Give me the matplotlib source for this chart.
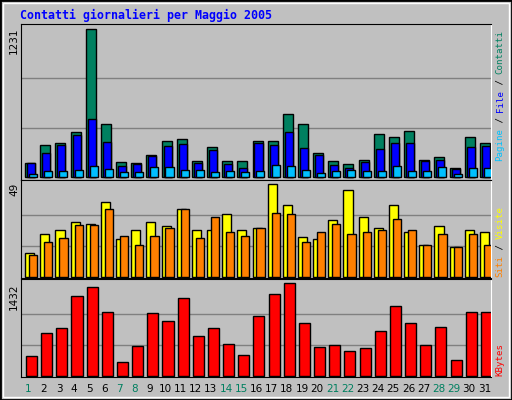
import matplotlib
matplotlib.use("Agg")
import matplotlib.pyplot as plt
import numpy as np

days = list(range(1, 32))
weekend = [1, 7, 8, 14, 15, 21, 22, 28, 29]
hits = [111,261,278,370,1231,436,120,111,178,295,311,128,245,128,128,295,295,520,436,195,128,103,136,353,328,378,136,161,70,328,278]
files = [111,195,261,345,486,286,86,103,170,253,270,111,220,103,70,278,261,370,236,178,94,70,120,228,278,278,128,136,61,245,253]
pages = [19,44,44,53,86,61,36,36,78,78,53,53,36,44,36,44,94,86,53,28,44,53,44,44,86,44,44,78,19,70,70]
visits = [12.4,22.5,25,29,28,39.5,20,25,29,27,36,25,25,33,25,26,49,38,21,20,30,46,31.5,26,38,23.5,16.6,27,15.6,24.6,23.5]
sites = [11.3,18.2,20.3,27.2,27.2,36,21.4,16.6,21.4,26,36,20.3,31.5,23.5,21.4,26,34,33,18.2,23.5,28,22.5,23.5,24.6,30.4,25,16.6,22.5,15.6,22.5,16.6]
kbytes = [303,664,742,1228,1369,993,209,460,977,852,1197,617,742,491,319,930,1259,1432,820,444,476,381,428,695,1087,820,476,758,240,993,993]

BG = "#C0C0C0"
fig = plt.figure(figsize=(5.12, 4.0), dpi=100, facecolor=BG)
W, H = 512, 400
def fx(p): return p / W
def fy(p): return 1 - p / H

x = np.array(days, dtype=float)
slot = x - 1.0  # left edge of slot

def mkax(top, bot, ymax, margin_b, margin_t):
    ax = fig.add_axes([fx(21), fy(bot), fx(491) - fx(21), (bot - top) / H])
    ax.set_facecolor(BG)
    ax.set_xlim(0, 31)
    ax.set_ylim(-margin_b, ymax + margin_t)
    for g in (ymax / 3, ymax * 2 / 3):
        ax.axhline(g, color="#808080", lw=1, zorder=0)
    ax.set_xticks([]); ax.set_yticks([])
    for s in ("top", "left", "bottom"):
        ax.spines[s].set_color("black")
    ax.spines["right"].set_color("white")
    return ax

ek = dict(edgecolor="black", linewidth=1, align="edge", zorder=2)
ax1 = mkax(24, 180, max(hits), 28, 45)
ax1.bar(slot + 0.27, hits, width=0.66, color="#008060", **ek)
ax1.bar(slot + 0.40, files, width=0.53, color="#0000FF", **ek)
ax1.bar(slot + 0.53, pages, width=0.53, color="#00C0FF", **ek)

ax2 = mkax(180, 278, max(visits), 0.7, 2.3)
ax2.bar(slot + 0.27, visits, width=0.60, color="#FFFF00", **ek)
ax2.bar(slot + 0.53, sites, width=0.54, color="#FF8000", **ek)

ax3 = mkax(279, 377, max(kbytes), 20, 67)
ax3.bar(slot + 0.33, kbytes, width=0.73, color="#FF0000", **ek)

# title
fig.text(fx(20), fy(15), "Contatti giornalieri per Maggio 2005", family="DejaVu Sans Mono",
         weight="bold", fontsize=8.4, color="#0000FF", va="center", ha="left")

# left max labels
for yp, lab in ((28, str(max(hits))), (183, "49"), (283, str(max(kbytes)))):
    fig.text(fx(14), fy(yp), lab, rotation=90, fontsize=7.5, ha="center", va="top", color="black")

# right labels
def rlabel(ybase, parts):
    off = 0
    for txt, col in parts:
        fig.text(fx(500), fy(ybase - off), txt, rotation=90, family="DejaVu Sans Mono",
                 fontsize=6.6, color=col, ha="center", va="bottom")
        off += len(txt) * 5.45
rlabel(161, [("Pagine", "#00C0FF"), (" / ", "black"), ("File", "#0000FF"), (" / ", "black"), ("Contatti", "#008060")])
rlabel(277, [("Siti", "#FF8000"), (" / ", "black"), ("Visite", "#FFFF00")])
rlabel(376, [("KBytes", "#FF0000")])

# day labels
for d in days:
    col = "#008060" if d in weekend else "black"
    fig.text(fx(21 + (d - 0.5) * 471 / 31), fy(389), str(d), fontsize=7.5, color=col,
             ha="center", va="center")

# frame
from matplotlib.patches import Rectangle
fig.patches.append(Rectangle((0, 0), 1, 1, transform=fig.transFigure, fill=False,
                             edgecolor="black", lw=2))
fig.patches.append(Rectangle((fx(3), fy(397)), fx(506), 394 / H, transform=fig.transFigure,
                             fill=False, edgecolor="white", lw=1))

fig.savefig("out.png", dpi=100, facecolor=BG)
